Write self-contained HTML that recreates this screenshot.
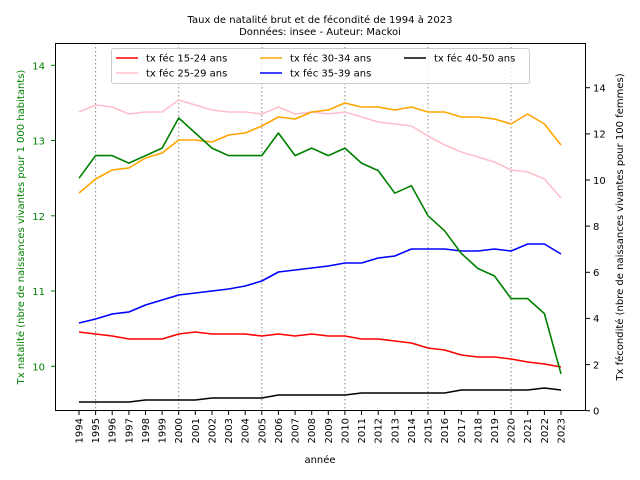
<!DOCTYPE html>
<html><head><meta charset="utf-8"><style>body{margin:0;background:#fff}svg{display:block;font-family:"DejaVu Sans","Liberation Sans",sans-serif}</style></head><body>
<svg width="640" height="480" viewBox="0 0 640 480" xmlns="http://www.w3.org/2000/svg">
<rect width="640" height="480" fill="#fff"/>
<text x="320" y="23" font-size="10" text-anchor="middle">Taux de natalité brut et de fécondité de 1994 à 2023</text>
<text x="320" y="35" font-size="10" text-anchor="middle">Données: insee - Auteur: Mackoi</text>
<g stroke="#888" stroke-width="1" stroke-dasharray="1.5,2.5">
<line x1="95.6" y1="43" x2="95.6" y2="410.7"/><line x1="178.7" y1="43" x2="178.7" y2="410.7"/><line x1="261.8" y1="43" x2="261.8" y2="410.7"/><line x1="344.9" y1="43" x2="344.9" y2="410.7"/><line x1="428" y1="43" x2="428" y2="410.7"/><line x1="511.1" y1="43" x2="511.1" y2="410.7"/>
</g>
<g fill="none" stroke-width="1.6" stroke-linejoin="round">
<polyline stroke="#ffc0cb" points="79,112 95.6,105 112.2,107 128.9,114 145.5,112 162.1,112 178.7,100 195.3,105 212,110 228.6,112 245.2,112 261.8,114 278.4,107 295.1,114 311.7,112 328.3,114 344.9,112 361.5,117 378.2,122 394.8,124 411.4,126 428,136 444.6,145 461.3,152 477.9,157 494.5,162 511.1,170 527.7,172 544.4,179 561,198"/>
<polyline stroke="#ffa500" points="79,193 95.6,179 112.2,170 128.9,168 145.5,158 162.1,153 178.7,140 195.3,140 212,142 228.6,135 245.2,133 261.8,126 278.4,117 295.1,119 311.7,112 328.3,110 344.9,103 361.5,107 378.2,107 394.8,110 411.4,107 428,112 444.6,112 461.3,117 477.9,117 494.5,119 511.1,124 527.7,114 544.4,124 561,145"/>
<polyline stroke="#0000ff" points="79,323 95.6,319 112.2,314 128.9,312 145.5,305 162.1,300 178.7,295 195.3,293 212,291 228.6,289 245.2,286 261.8,281 278.4,272 295.1,270 311.7,268 328.3,266 344.9,263 361.5,263 378.2,258 394.8,256 411.4,249 428,249 444.6,249 461.3,251 477.9,251 494.5,249 511.1,251 527.7,244 544.4,244 561,254"/>
<polyline stroke="#ff0000" points="79,332 95.6,334 112.2,336 128.9,339 145.5,339 162.1,339 178.7,334 195.3,332 212,334 228.6,334 245.2,334 261.8,336 278.4,334 295.1,336 311.7,334 328.3,336 344.9,336 361.5,339 378.2,339 394.8,341 411.4,343 428,348 444.6,350 461.3,355 477.9,357 494.5,357 511.1,359 527.7,362 544.4,364 561,367"/>
<polyline stroke="#000" points="79,402 95.6,402 112.2,402 128.9,402 145.5,400 162.1,400 178.7,400 195.3,400 212,398 228.6,398 245.2,398 261.8,398 278.4,395 295.1,395 311.7,395 328.3,395 344.9,395 361.5,393 378.2,393 394.8,393 411.4,393 428,393 444.6,393 461.3,390 477.9,390 494.5,390 511.1,390 527.7,390 544.4,388 561,390"/>
<polyline stroke="#008000" points="79,178.2 95.6,155.6 112.2,155.6 128.9,163.1 145.5,155.6 162.1,148.1 178.7,118 195.3,133 212,148.1 228.6,155.6 245.2,155.6 261.8,155.6 278.4,133 295.1,155.6 311.7,148.1 328.3,155.6 344.9,148.1 361.5,163.1 378.2,170.6 394.8,193.2 411.4,185.7 428,215.8 444.6,230.8 461.3,253.4 477.9,268.5 494.5,276 511.1,298.6 527.7,298.6 544.4,313.6 561,373.8"/>
</g>
<rect x="55.5" y="43.5" width="530" height="367" fill="none" stroke="#000" stroke-width="1"/>
<g fill="#008000" font-size="10" text-anchor="end" stroke="none">
<text x="45" y="69.5">14</text><text x="45" y="144.7">13</text><text x="45" y="220">12</text><text x="45" y="295.2">11</text><text x="45" y="370.5">10</text>
</g>
<g stroke="#008000"><line x1="51" y1="65.3" x2="55" y2="65.3"/><line x1="51" y1="140.5" x2="55" y2="140.5"/><line x1="51" y1="215.8" x2="55" y2="215.8"/><line x1="51" y1="291" x2="55" y2="291"/><line x1="51" y1="366.3" x2="55" y2="366.3"/></g>
<g stroke="#000"><line x1="586" y1="410.7" x2="590" y2="410.7"/><line x1="586" y1="364.6" x2="590" y2="364.6"/><line x1="586" y1="318.4" x2="590" y2="318.4"/><line x1="586" y1="272.3" x2="590" y2="272.3"/><line x1="586" y1="226.1" x2="590" y2="226.1"/><line x1="586" y1="180" x2="590" y2="180"/><line x1="586" y1="133.9" x2="590" y2="133.9"/><line x1="586" y1="87.7" x2="590" y2="87.7"/></g>
<g font-size="10" fill="#000">
<text x="593" y="414.5">0</text><text x="593" y="368.4">2</text><text x="593" y="322.2">4</text><text x="593" y="276.1">6</text><text x="593" y="229.9">8</text><text x="593" y="183.8">10</text><text x="593" y="137.7">12</text><text x="593" y="91.5">14</text>
</g>
<text transform="translate(24,227) rotate(-90)" font-size="10" fill="#008000" text-anchor="middle">Tx natalité (nbre de naissances vivantes pour 1 000 habitants)</text>
<text transform="translate(623,227) rotate(-90)" font-size="10" fill="#000" text-anchor="middle">Tx fécondité (nbre de naissances vivantes pour 100 femmes)</text>
<g stroke="#000">
<line x1="79" y1="411" x2="79" y2="415"/><line x1="95.6" y1="411" x2="95.6" y2="415"/><line x1="112.2" y1="411" x2="112.2" y2="415"/><line x1="128.9" y1="411" x2="128.9" y2="415"/><line x1="145.5" y1="411" x2="145.5" y2="415"/><line x1="162.1" y1="411" x2="162.1" y2="415"/><line x1="178.7" y1="411" x2="178.7" y2="415"/><line x1="195.3" y1="411" x2="195.3" y2="415"/><line x1="212" y1="411" x2="212" y2="415"/><line x1="228.6" y1="411" x2="228.6" y2="415"/><line x1="245.2" y1="411" x2="245.2" y2="415"/><line x1="261.8" y1="411" x2="261.8" y2="415"/><line x1="278.4" y1="411" x2="278.4" y2="415"/><line x1="295.1" y1="411" x2="295.1" y2="415"/><line x1="311.7" y1="411" x2="311.7" y2="415"/><line x1="328.3" y1="411" x2="328.3" y2="415"/><line x1="344.9" y1="411" x2="344.9" y2="415"/><line x1="361.5" y1="411" x2="361.5" y2="415"/><line x1="378.2" y1="411" x2="378.2" y2="415"/><line x1="394.8" y1="411" x2="394.8" y2="415"/><line x1="411.4" y1="411" x2="411.4" y2="415"/><line x1="428" y1="411" x2="428" y2="415"/><line x1="444.6" y1="411" x2="444.6" y2="415"/><line x1="461.3" y1="411" x2="461.3" y2="415"/><line x1="477.9" y1="411" x2="477.9" y2="415"/><line x1="494.5" y1="411" x2="494.5" y2="415"/><line x1="511.1" y1="411" x2="511.1" y2="415"/><line x1="527.7" y1="411" x2="527.7" y2="415"/><line x1="544.4" y1="411" x2="544.4" y2="415"/><line x1="561" y1="411" x2="561" y2="415"/>
</g>
<g font-size="10" fill="#000" text-anchor="end">
<text transform="translate(82.5,418) rotate(-90)">1994</text><text transform="translate(99.1,418) rotate(-90)">1995</text><text transform="translate(115.7,418) rotate(-90)">1996</text><text transform="translate(132.4,418) rotate(-90)">1997</text><text transform="translate(149,418) rotate(-90)">1998</text><text transform="translate(165.6,418) rotate(-90)">1999</text><text transform="translate(182.2,418) rotate(-90)">2000</text><text transform="translate(198.8,418) rotate(-90)">2001</text><text transform="translate(215.5,418) rotate(-90)">2002</text><text transform="translate(232.1,418) rotate(-90)">2003</text><text transform="translate(248.7,418) rotate(-90)">2004</text><text transform="translate(265.3,418) rotate(-90)">2005</text><text transform="translate(281.9,418) rotate(-90)">2006</text><text transform="translate(298.6,418) rotate(-90)">2007</text><text transform="translate(315.2,418) rotate(-90)">2008</text><text transform="translate(331.8,418) rotate(-90)">2009</text><text transform="translate(348.4,418) rotate(-90)">2010</text><text transform="translate(365,418) rotate(-90)">2011</text><text transform="translate(381.7,418) rotate(-90)">2012</text><text transform="translate(398.3,418) rotate(-90)">2013</text><text transform="translate(414.9,418) rotate(-90)">2014</text><text transform="translate(431.5,418) rotate(-90)">2015</text><text transform="translate(448.1,418) rotate(-90)">2016</text><text transform="translate(464.8,418) rotate(-90)">2017</text><text transform="translate(481.4,418) rotate(-90)">2018</text><text transform="translate(498,418) rotate(-90)">2019</text><text transform="translate(514.6,418) rotate(-90)">2020</text><text transform="translate(531.2,418) rotate(-90)">2021</text><text transform="translate(547.9,418) rotate(-90)">2022</text><text transform="translate(564.5,418) rotate(-90)">2023</text>
</g>
<text x="320" y="463" font-size="10" text-anchor="middle">année</text>
<rect x="111.5" y="48.5" width="418" height="35" rx="2" fill="#fff" fill-opacity="0.8" stroke="#ccc"/>
<g stroke-width="1.6">
<line x1="116" y1="58" x2="138" y2="58" stroke="#ff0000"/><line x1="116" y1="73" x2="138" y2="73" stroke="#ffc0cb"/>
<line x1="260" y1="58" x2="282" y2="58" stroke="#ffa500"/><line x1="260" y1="73" x2="282" y2="73" stroke="#0000ff"/>
<line x1="404" y1="58" x2="426" y2="58" stroke="#000"/>
</g>
<g font-size="10" fill="#000">
<text x="146" y="61.5">tx féc 15-24 ans</text><text x="146" y="76.5">tx féc 25-29 ans</text>
<text x="290" y="61.5">tx féc 30-34 ans</text><text x="290" y="76.5">tx féc 35-39 ans</text>
<text x="434" y="61.5">tx féc 40-50 ans</text>
</g>
</svg>
</body></html>
